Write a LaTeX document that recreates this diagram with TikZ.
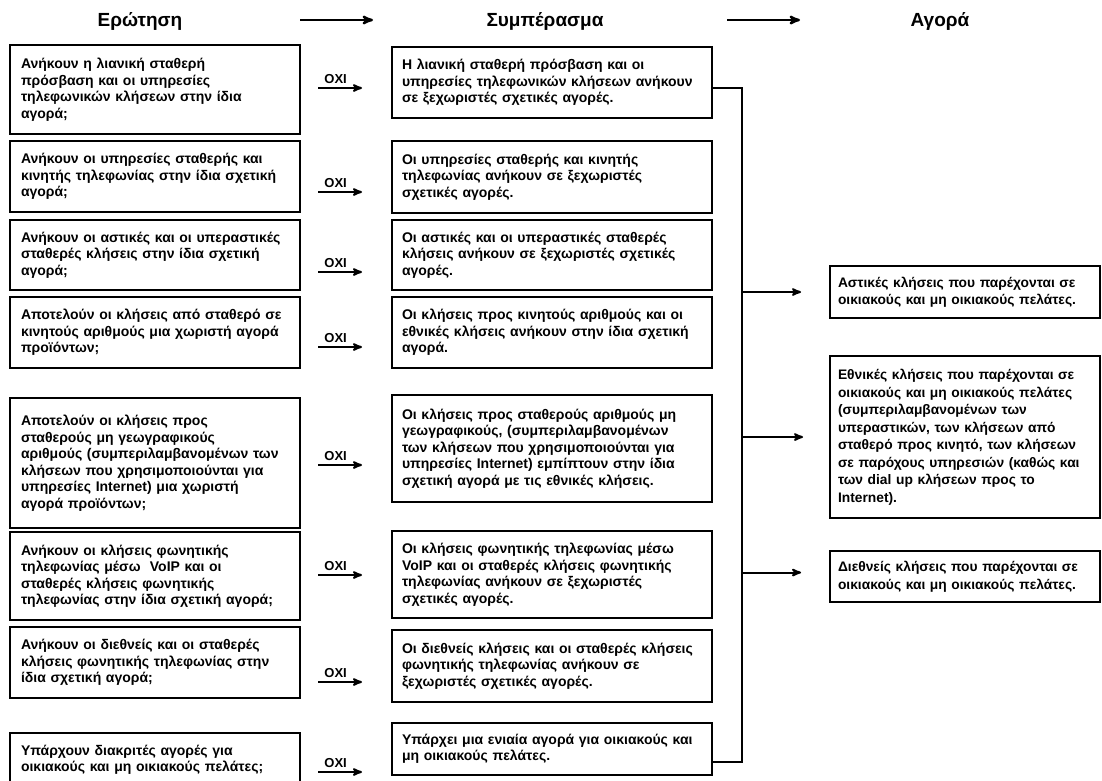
\documentclass[tikz,border=0pt]{standalone}
\usepackage{fontspec}
\setmainfont{Liberation Sans}
\usepackage{tikz}
\usetikzlibrary{arrows}

\tikzset{
  box/.style={draw, line width=1.9pt, align=left, inner xsep=11pt, inner ysep=4pt,
    font=\bfseries\fontsize{14}{16.5}\selectfont},
  qbox/.style={box, text width=268pt},
  cbox/.style={box, inner xsep=10pt, text width=300pt},
  abox/.style={box, inner xsep=8pt, text width=254pt, font=\bfseries\fontsize{13.8}{17.5}\selectfont},
  head/.style={font=\bfseries\fontsize{19}{22}\selectfont},
  arr/.style={line width=2pt, ->, >=stealth'},
  oxi/.style={font=\bfseries\fontsize{13}{14}\selectfont, inner sep=1pt}
}

\begin{document}
\begin{tikzpicture}[x=1pt, y=-1pt]
    \useasboundingbox (0,0) rectangle (1102,780);
    % titres
    \node[head] (h1) at (140,21) {Ερώτηση};
    \node[head] (h2) at (545,21) {Συμπέρασμα};
    \node[head] (h3) at (940,21) {Αγορά};
    \coordinate (t1a) at (300,20);
    \coordinate (t1b) at (373,20);
    \coordinate (t2a) at (727,20);
    \coordinate (t2b) at (800,20);
    \draw[arr, line width=2.4pt] (t1a) -- (t1b);
    \draw[arr, line width=2.4pt] (t2a) -- (t2b);
    % questions
    \node[qbox, minimum height=89pt] (q1) at (155,89.5) {Ανήκουν η λιανική σταθερή\\πρόσβαση και οι υπηρεσίες\\τηλεφωνικών κλήσεων στην ίδια\\αγορά;};
    \node[qbox, minimum height=71pt] (q2) at (155,176.5) {Ανήκουν οι υπηρεσίες σταθερής και\\κινητής τηλεφωνίας στην ίδια σχετική\\αγορά;};
    \node[qbox, minimum height=70pt] (q3) at (155,255) {Ανήκουν οι αστικές και οι υπεραστικές\\σταθερές κλήσεις στην ίδια σχετική\\αγορά;};
    \node[qbox, minimum height=71pt] (q4) at (155,332.5) {Αποτελούν οι κλήσεις από σταθερό σε\\κινητούς αριθμούς μια χωριστή αγορά\\προϊόντων;};
    \node[qbox, minimum height=130pt] (q5) at (155,463) {Αποτελούν οι κλήσεις προς\\σταθερούς μη γεωγραφικούς\\αριθμούς (συμπεριλαμβανομένων των\\κλήσεων που χρησιμοποιούνται για\\υπηρεσίες Internet) μια χωριστή\\αγορά προϊόντων;};
    \node[qbox, minimum height=88pt] (q6) at (155,576) {Ανήκουν οι κλήσεις φωνητικής\\τηλεφωνίας μέσω\ \ VoIP και οι\\σταθερές κλήσεις φωνητικής\\τηλεφωνίας στην ίδια σχετική αγορά;};
    \node[qbox, minimum height=71pt] (q7) at (155,662.5) {Ανήκουν οι διεθνείς και οι σταθερές\\κλήσεις φωνητικής τηλεφωνίας στην\\ίδια σχετική αγορά;};
    \node[qbox, minimum height=54pt] (q8) at (155,760) {Υπάρχουν διακριτές αγορές για\\οικιακούς και μη οικιακούς πελάτες;};
    % ΟΧΙ
    \foreach \i/\y in {1/88,2/192,3/272,4/347,5/465,6/575,7/682,8/772} {
      \coordinate (oa\i) at (318,\y);
      \coordinate (ob\i) at (362,\y);
      \draw[arr] (oa\i) -- (ob\i) node[oxi, pos=.4, above=2pt] (ox\i) {ΟΧΙ};
    }
    % συμπεράσματα
    \node[cbox, minimum height=71pt] (c1) at (552,82.5) {Η λιανική σταθερή πρόσβαση και οι\\υπηρεσίες τηλεφωνικών κλήσεων ανήκουν\\σε ξεχωριστές σχετικές αγορές.};
    \node[cbox, minimum height=72pt] (c2) at (552,177) {Οι υπηρεσίες σταθερής και κινητής\\τηλεφωνίας ανήκουν σε ξεχωριστές\\σχετικές αγορές.};
    \node[cbox, minimum height=70pt] (c3) at (552,255) {Οι αστικές και οι υπεραστικές σταθερές\\κλήσεις ανήκουν σε ξεχωριστές σχετικές\\αγορές.};
    \node[cbox, minimum height=71pt] (c4) at (552,332.5) {Οι κλήσεις προς κινητούς αριθμούς και οι\\εθνικές κλήσεις ανήκουν στην ίδια σχετική\\αγορά.};
    \node[cbox, minimum height=107pt] (c5) at (552,448.5) {Οι κλήσεις προς σταθερούς αριθμούς μη\\γεωγραφικούς, (συμπεριλαμβανομένων\\των κλήσεων που χρησιμοποιούνται για\\υπηρεσίες Internet) εμπίπτουν στην ίδια\\σχετική αγορά με τις εθνικές κλήσεις.};
    \node[cbox, minimum height=87pt] (c6) at (552,574.5) {Οι κλήσεις φωνητικής τηλεφωνίας μέσω\\VoIP και οι σταθερές κλήσεις φωνητικής\\τηλεφωνίας ανήκουν σε ξεχωριστές\\σχετικές αγορές.};
    \node[cbox, minimum height=72pt] (c7) at (552,666) {Οι διεθνείς κλήσεις και οι σταθερές κλήσεις\\φωνητικής τηλεφωνίας ανήκουν σε\\ξεχωριστές σχετικές αγορές.};
    \node[cbox, minimum height=52pt] (c8) at (552,749) {Υπάρχει μια ενιαία αγορά για οικιακούς και\\μη οικιακούς πελάτες.};
    % αγορές
    \node[abox, minimum height=52pt] (a1) at (965,292) {Αστικές κλήσεις που παρέχονται σε\\οικιακούς και μη οικιακούς πελάτες.};
    \node[abox, minimum height=162pt] (a2) at (965,437) {Εθνικές κλήσεις που παρέχονται σε\\οικιακούς και μη οικιακούς πελάτες\\(συμπεριλαμβανομένων των\\υπεραστικών, των κλήσεων από\\σταθερό προς κινητό, των κλήσεων\\σε παρόχους υπηρεσιών (καθώς και\\των dial up κλήσεων προς το\\Internet).};
    \node[abox, minimum height=51pt] (a3) at (965,576.5) {Διεθνείς κλήσεις που παρέχονται σε\\οικιακούς και μη οικιακούς πελάτες.};
    % συλλογή
    \coordinate (bus) at (742,0);
    \coordinate (b1) at ([yshift=-5pt]c1.east);
    \coordinate (b8) at ([yshift=-13pt]c8.east);
    \draw[line width=2pt] (b1) -| (bus |- b8) -- (b8);
    \draw[arr, shorten >=28pt] (bus |- a1.west) -- (a1.west);
    \draw[arr, shorten >=26pt] (bus |- a2.west) -- (a2.west);
    \draw[arr, shorten >=28pt] ([yshift=4pt]bus |- a3.west) -- ([yshift=4pt]a3.west);
\end{tikzpicture}
\end{document}
